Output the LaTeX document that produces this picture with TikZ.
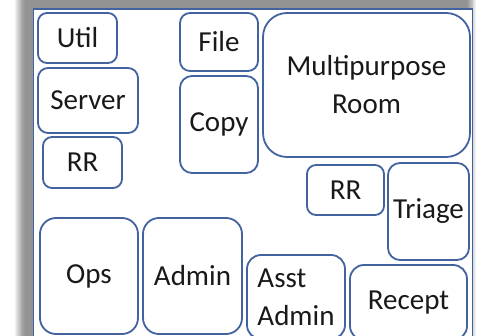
\documentclass[tikz,border=0pt]{standalone}
\usepackage{fontspec}
\setmainfont{Carlito}
\definecolor{roomline}{RGB}{66,98,160}
\definecolor{shadowgray}{RGB}{100,100,100}
\definecolor{labeltext}{RGB}{25,25,25}
\begin{document}
\begin{tikzpicture}[x=1pt,y=-1pt,
  room/.style={draw=roomline, line width=1.8pt, fill=white, inner sep=0pt,
    text=labeltext, font=\fontsize{29}{38}\selectfont, align=center}]
\useasboundingbox (0,0) rectangle (478,336);
\clip (0,0) rectangle (478,336);
\fill[white] (0,0) rectangle (478,336);
% soft shadow of the floor outline
\foreach \k in {0,1,...,11}{
  \fill[shadowgray, opacity=0.085] (25-\k*0.9,-20) rectangle (467+\k*0.8,360);
}
% floor outline
\node[draw=roomline, line width=1.8pt, fill=white, inner sep=0pt,
  minimum width=439pt, minimum height=350pt] (floor) at (253,184) {};
% rooms: \roomnode{name}{x1}{y1}{x2}{y2}{corner}{text}
\newcommand\roomnode[7]{%
  \pgfmathsetmacro\cx{(#2+#4)/2}\pgfmathsetmacro\cy{(#3+#5)/2}%
  \pgfmathsetmacro\w{#4-#2}\pgfmathsetmacro\h{#5-#3}%
  \node[room, rounded corners=#6pt, minimum width=\w pt, minimum height=\h pt]
    (#1) at (\cx,\cy) {#7};}
\roomnode{util}{38}{13}{117}{63}{9}{Util}
\roomnode{server}{38}{68}{138}{133}{10}{Server}
\roomnode{rrleft}{43}{137}{122}{188}{9}{RR}
\roomnode{file}{180}{13}{258}{71}{10}{File}
\roomnode{copy}{180}{76}{258}{173}{12}{Copy}
\roomnode{multi}{263}{13}{470}{157}{24}{Multipurpose\\Room}
\roomnode{rrright}{307}{165}{384}{215}{9}{RR}
\roomnode{triage}{388}{163}{469}{260}{12}{Triage}
\roomnode{ops}{40}{218}{138}{334}{16}{Ops}
\roomnode{admin}{143}{218}{242}{334}{16}{Admin}
\node[room, rounded corners=14pt, minimum width=98pt, minimum height=84pt,
  align=left] (asst) at (296,297) {Asst\\Admin};
\node[room, rounded corners=14pt, minimum width=117pt, minimum height=75pt]
  (recept) at (408.5,302.5) {Recept};
\end{tikzpicture}
\end{document}
